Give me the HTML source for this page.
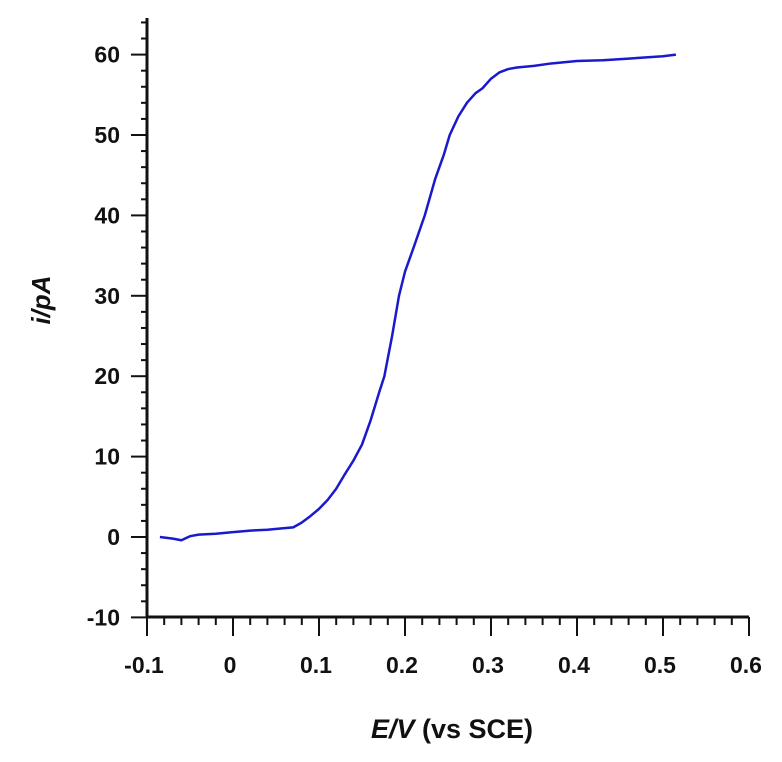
<!DOCTYPE html>
<html><head><meta charset="utf-8"><style>
body{margin:0;background:#fff;}
svg text{font-family:"Liberation Sans",Arial,sans-serif;font-weight:bold;fill:#111;}
</style></head><body>
<svg id="chart" width="782" height="757" viewBox="0 0 782 757" xmlns="http://www.w3.org/2000/svg">
<g id="axes"></g>
<text transform="translate(50,300) rotate(-90)" text-anchor="middle" font-size="26" font-style="italic">i/pA</text>
<text x="452" y="738" text-anchor="middle" font-size="27"><tspan font-style="italic">E/V</tspan> (vs SCE)</text>
</svg>
<script>
const xTicks=[-0.1,0,0.1,0.2,0.3,0.4,0.5,0.6];
const xTickLabels=["-0.1","0","0.1","0.2","0.3","0.4","0.5","0.6"];
const yTicks=[-10,0,10,20,30,40,50,60];
const yTickLabels=["-10","0","10","20","30","40","50","60"];
const potentials=[-0.085,-0.07,-0.06,-0.05,-0.04,-0.02,0,0.02,0.04,0.06,0.07,0.08,0.09,0.1,0.11,0.12,0.13,0.14,0.15,0.16,0.17,0.176,0.185,0.193,0.2,0.21,0.223,0.235,0.245,0.252,0.262,0.272,0.282,0.29,0.3,0.31,0.32,0.33,0.35,0.37,0.4,0.43,0.46,0.5,0.515];
const currents=[0,-0.2,-0.4,0.1,0.3,0.4,0.6,0.8,0.9,1.1,1.2,1.8,2.6,3.5,4.6,6,7.8,9.5,11.5,14.5,18,20,25,30,33,36,40,44.5,47.5,50,52.3,54,55.2,55.8,57,57.8,58.2,58.4,58.6,58.9,59.2,59.3,59.5,59.8,60];
const NS="http://www.w3.org/2000/svg";
const X0=147,X1=749,Y0=617,Ytop=18;
function sx(v){return 233+(v)*860;}
function sy(v){return 537-v*8.04;}
const svg=document.getElementById('chart');
const g=document.getElementById('axes');
function line(x1,y1,x2,y2,w,name){const l=document.createElementNS(NS,'line');l.setAttribute('x1',x1);l.setAttribute('y1',y1);l.setAttribute('x2',x2);l.setAttribute('y2',y2);l.setAttribute('stroke','#111');l.setAttribute('stroke-width',w);


g.appendChild(l);}
line(X0,Ytop,X0,Y0+1,3,'y-axis-line');
line(X0-1,Y0,X1,Y0,3,'x-axis-line');
for(let v=-10;v<=64;v+=2){const y=sy(v);const major=v%10===0;line(major?X0-16:X0-6,y,X0,y,2,major?'y-major-tick':'y-minor-tick');}
for(let i=0;i<=35;i++){const v=-0.1+i*0.02;const x=sx(v);const major=i%5===0;line(x,Y0,x,Y0+(major?19:8),2,major?'x-major-tick':'x-minor-tick');}
yTicks.forEach((v,i)=>{const t=document.createElementNS(NS,'text');t.setAttribute('x',120);t.setAttribute('y',sy(v)+8);t.setAttribute('text-anchor','end');t.setAttribute('font-size','23');t.textContent=yTickLabels[i];


svg.appendChild(t);});
xTicks.forEach((v,i)=>{const t=document.createElementNS(NS,'text');t.setAttribute('x',sx(v)-3);t.setAttribute('y',673);t.setAttribute('text-anchor','middle');t.setAttribute('font-size','23');t.textContent=xTickLabels[i];


svg.appendChild(t);});
const p=document.createElementNS(NS,'polyline');
p.setAttribute('points',potentials.map((v,i)=>sx(v)+','+sy(currents[i])).join(' '));
p.setAttribute('fill','none');p.setAttribute('stroke','#1a1acc');p.setAttribute('stroke-width','2.5');p.setAttribute('stroke-linejoin','round');


svg.appendChild(p);
</script>
</body></html>
